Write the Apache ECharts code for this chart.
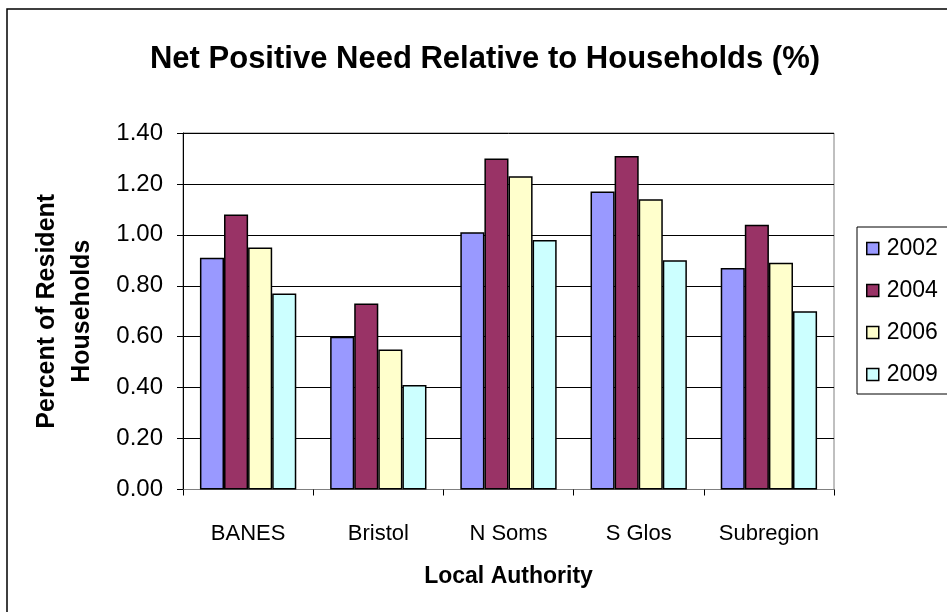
<!DOCTYPE html>
<html>
<head>
<meta charset="utf-8">
<script src="https://cdn.jsdelivr.net/npm/echarts@6/dist/echarts.min.js"></script>
<style>html,body{margin:0;padding:0;background:#fff;}#c{width:947px;height:612px;}</style>
</head>
<body>
<div id="c"></div>
<script>
var categories = ['BANES', 'Bristol', 'N Soms', 'S Glos', 'Subregion'];
var seriesNames = ['2002', '2004', '2006', '2009'];
var v2002 = [0.91, 0.60, 1.01, 1.17, 0.87];
var v2004 = [1.08, 0.73, 1.30, 1.31, 1.04];
var v2006 = [0.95, 0.55, 1.23, 1.14, 0.89];
var v2009 = [0.77, 0.41, 0.98, 0.90, 0.70];
var yTicks = [0, 0.2, 0.4, 0.6, 0.8, 1.0, 1.2, 1.4];
var colors = ['#9999FF', '#993366', '#FFFFCC', '#CCFFFF'];
var values = [v2002, v2004, v2006, v2009];

var FONT = '"Liberation Sans", Arial, sans-serif';
var chart = echarts.init(document.getElementById('c'));
var series = seriesNames.map(function (n, i) {
  return {
    name: n, type: 'bar', data: values[i],
    barGap: '0%', barCategoryGap: '26%',
    itemStyle: { color: colors[i], borderColor: '#000', borderWidth: 1.5 }
  };
});
chart.setOption({
  animation: false,
  backgroundColor: '#fff',
  textStyle: { fontFamily: FONT },
  title: {
    text: 'Net Positive Need Relative to Households (%)',
    left: 480, textAlign: 'center', top: 39,
    textStyle: { fontFamily: FONT, fontSize: 31, fontWeight: 'bold', color: '#000' }
  },
  graphic: [{
    type: 'rect', shape: { x: 7, y: 9, width: 1000, height: 700 },
    style: { fill: 'none', stroke: '#000', lineWidth: 1.5 }, silent: true, z: -1
  }],
  legend: {
    orient: 'vertical', left: 857, top: 227,
    data: seriesNames,
    itemWidth: 12, itemHeight: 12, itemGap: 19,
    padding: [10, 40, 8, 9],
    borderColor: '#000', borderWidth: 1,
    icon: 'rect',
    itemStyle: { borderColor: '#000', borderWidth: 1.5 },
    textStyle: { fontFamily: FONT, fontSize: 23, color: '#000', padding: [0, 0, 0, 3] }
  },
  grid: { left: 183, right: 113, top: 133, bottom: 122.5, show: true, borderColor: '#808080', borderWidth: 1 },
  xAxis: {
    type: 'category', data: categories,
    axisLine: { lineStyle: { color: '#808080', width: 1 } },
    axisTick: { show: true, alignWithLabel: false, length: 6, lineStyle: { color: '#000' } },
    axisLabel: { fontFamily: FONT, fontSize: 22, color: '#000', margin: 33, interval: 0 },
    name: 'Local Authority', nameLocation: 'middle', nameGap: 76,
    nameTextStyle: { fontFamily: FONT, fontSize: 23, fontWeight: 'bold', color: '#000' }
  },
  yAxis: {
    type: 'value', min: 0, max: 1.4, interval: 0.2,
    axisLine: { show: true, lineStyle: { color: '#000', width: 1 } },
    axisTick: { show: true, length: 6, lineStyle: { color: '#000' } },
    splitLine: { show: true, lineStyle: { color: '#000', width: 1 } },
    axisLabel: { fontFamily: FONT, fontSize: 24, color: '#000', margin: 20,
      formatter: function (v) { return v.toFixed(2); } },
    name: 'Percent of Resident\nHouseholds', nameLocation: 'middle', nameGap: 83,
    nameTextStyle: { fontFamily: FONT, fontSize: 25, fontWeight: 'bold', color: '#000', lineHeight: 35 }
  },
  series: series
});
</script>
</body>
</html>
